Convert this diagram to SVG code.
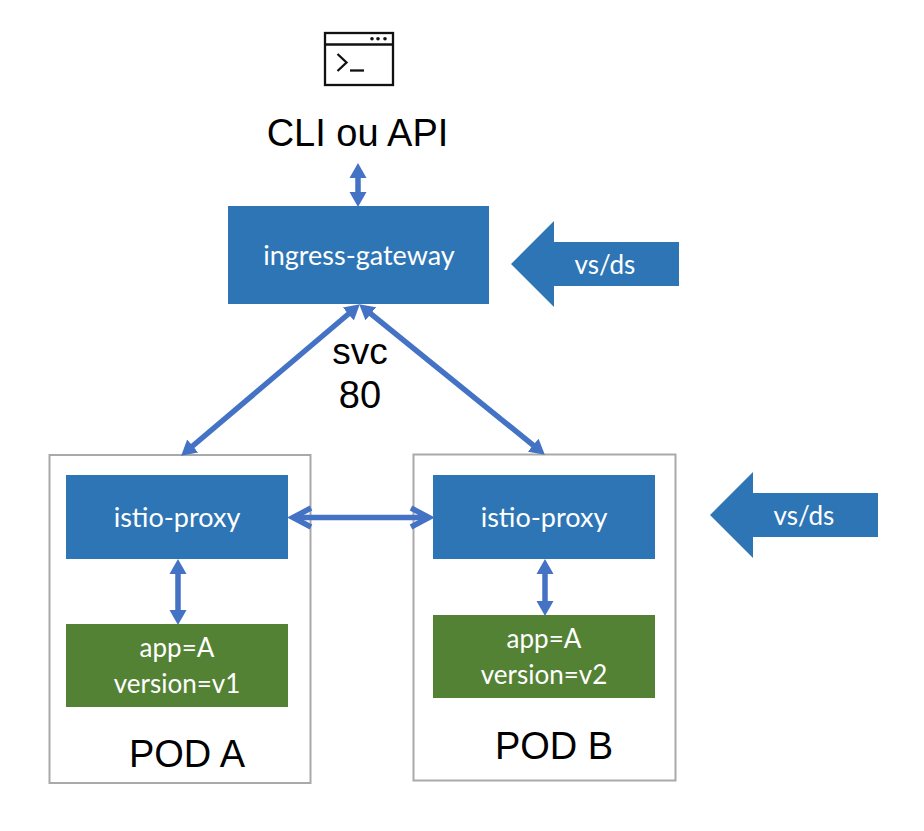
<svg xmlns="http://www.w3.org/2000/svg" width="924" height="831" viewBox="0 0 924 831">
<style>
.blue{fill:#2e75b6}
.green{fill:#548235}
.pod{fill:#fff;stroke:#a9a9a9;stroke-width:2}
.lbl{font-family:"Lato","Liberation Sans",sans-serif;font-size:27px;fill:#fff;text-anchor:middle}
.sm{font-size:26px}
.big{font-family:"Liberation Sans",Arial,sans-serif;fill:#000;text-anchor:middle}
.conn{stroke:#4472c4;stroke-width:5.500;fill:none}
.term{fill:none;stroke:#111;stroke-width:2.300}
.open{fill:none;stroke:#4472c4;stroke-width:5.500}
</style>
<defs>
<marker id="tri" markerUnits="userSpaceOnUse" markerWidth="18" markerHeight="18" refX="7" refY="9" orient="auto-start-reverse" viewBox="0 0 18 18"><path d="M0 0.500 L15 9 L0 17.500 Z" fill="#4472c4"/></marker>
</defs>
<rect width="924" height="831" fill="#fff"/>
<g id="terminal">
<rect class="term" x="325" y="33" width="68" height="52"/>
<line class="term" x1="325" y1="44.500" x2="393" y2="44.500"/>
<circle cx="372" cy="38.800" r="1.800" fill="#111"/><circle cx="378" cy="38.800" r="1.800" fill="#111"/><circle cx="385" cy="38.800" r="1.800" fill="#111"/>
<path class="term" d="M337.500 54 L346.500 62.500 L337.500 71"/>
<line class="term" x1="350" y1="70.500" x2="364" y2="70.500"/>
</g>
<g id="cli"><text class="big" x="357.500" y="146" font-size="38">CLI ou API</text></g>
<g id="ingress-gateway"><rect class="blue" x="228" y="206" width="261" height="98"/><text class="lbl" x="359" y="265">ingress-gateway</text></g>
<g id="vsds-1"><path class="blue" d="M511 264 L554 221 L554 242 L679 242 L679 286 L554 286 L554 307 Z"/><text class="lbl sm" x="605" y="274">vs/ds</text></g>
<g id="svc"><text class="big" x="360" y="364" font-size="37">svc</text><text class="big" x="360" y="408" font-size="38">80</text></g>
<g id="pod-a"><rect class="pod" x="49.500" y="455" width="261" height="328"/><text class="big" x="187" y="767" font-size="38">POD A</text></g>
<g id="pod-b"><rect class="pod" x="413.500" y="454.500" width="262" height="326"/><text class="big" x="554" y="759" font-size="38">POD B</text></g>
<g id="proxy-a"><rect class="blue" x="66" y="475" width="222" height="84"/><text class="lbl" x="177" y="527">istio-proxy</text></g>
<g id="proxy-b"><rect class="blue" x="433" y="475" width="222" height="84"/><text class="lbl" x="544" y="527">istio-proxy</text></g>
<g id="app-a"><rect class="green" x="66" y="624" width="222" height="83"/><text class="lbl sm" x="177" y="657">app=A</text><text class="lbl sm" x="177" y="693">version=v1</text></g>
<g id="app-b"><rect class="green" x="433" y="615" width="222" height="83"/><text class="lbl sm" x="544" y="648">app=A</text><text class="lbl sm" x="544" y="684">version=v2</text></g>
<g id="vsds-2"><path class="blue" d="M710 515 L753 472 L753 493 L878 493 L878 537 L753 537 L753 558 Z"/><text class="lbl sm" x="804" y="525">vs/ds</text></g>
<g id="connectors">
<line class="conn" x1="358" y1="171" x2="358" y2="199" marker-start="url(#tri)" marker-end="url(#tri)"/>
<line class="conn" x1="353.700" y1="309.500" x2="187.300" y2="450.500" marker-start="url(#tri)" marker-end="url(#tri)"/>
<line class="conn" x1="365.400" y1="309.400" x2="538.600" y2="449.600" marker-start="url(#tri)" marker-end="url(#tri)"/>
<line class="conn" x1="178" y1="567" x2="178" y2="617" marker-start="url(#tri)" marker-end="url(#tri)"/>
<line class="conn" x1="545" y1="567" x2="545" y2="608" marker-start="url(#tri)" marker-end="url(#tri)"/>
<line class="conn" x1="293" y1="517.500" x2="429" y2="517.500"/>
<path class="open" d="M311 508 L293 517.500 L311 527 M411 508 L429 517.500 L411 527"/>
</g>
</svg>
